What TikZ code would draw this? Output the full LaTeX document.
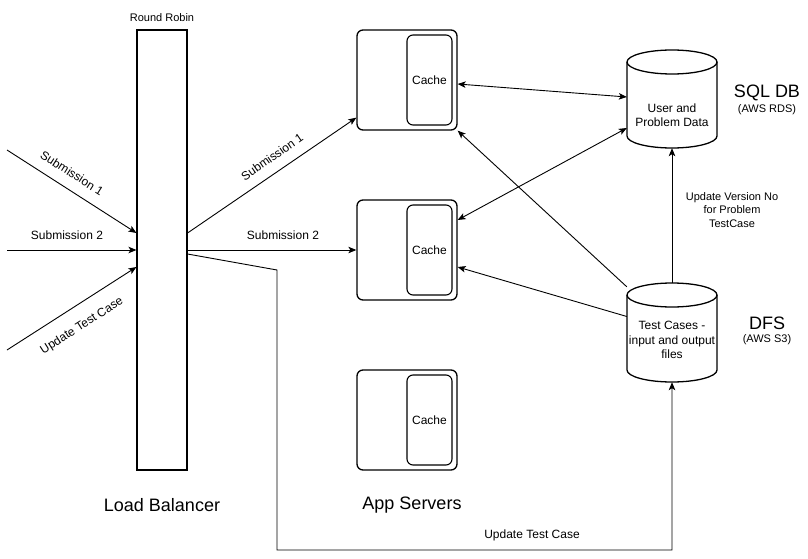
\documentclass[tikz,border=0pt]{standalone}
\usepackage{fontspec}
\setmainfont{Liberation Sans}
\usetikzlibrary{arrows.meta,calc}
\newcommand\txtM{\fontsize{12}{14.5}\selectfont}
\newcommand\txtS{\fontsize{11}{13.5}\selectfont}
\newcommand\txtL{\fontsize{18}{21}\selectfont}
\tikzset{
  lbbox/.style={draw, line width=1.1pt, minimum width=50pt, minimum height=440pt, inner sep=0pt},
  srvbox/.style={draw, line width=1.3pt, rounded corners=6pt, minimum width=100pt, minimum height=100pt, inner sep=0pt},
  cachebox/.style={draw, line width=1.1pt, rounded corners=6pt, minimum width=45pt, minimum height=90pt, inner sep=0pt, font=\txtM},
  dbbox/.style={minimum width=90pt, inner sep=0pt, align=center, font=\txtM},
  cylline/.style={line width=1.3pt},
  conn/.style={line width=0.9pt, -{Stealth[length=8pt,width=6.5pt,inset=2pt]}},
  bconn/.style={line width=0.9pt, {Stealth[length=8pt,width=6.5pt,inset=2pt]}-{Stealth[length=8pt,width=6.5pt,inset=2pt]}},
  plain/.style={line width=0.9pt},
  lbl/.style={font=\txtM, inner sep=0pt, align=center},
  lbls/.style={font=\txtS, inner sep=0pt, align=center},
  lbll/.style={font=\txtL, inner sep=0pt, align=center},
}
\begin{document}
\begin{tikzpicture}[x=1pt,y=-1pt]
\useasboundingbox[fill=white] (0,0) rectangle (808,559);

% load balancer
\node[lbbox] (lb) at (162,250) {};
\node[lbls] (rr) at (162,18) {Round Robin};
\node[lbll] (lbt) at (162,505) {Load Balancer};

% app servers
\node[srvbox] (s1) at (407,80) {};
\node[cachebox] (c1) at (429.5,80) {Cache};
\node[srvbox] (s2) at (407,250) {};
\node[cachebox] (c2) at (429.5,250) {Cache};
\node[srvbox] (s3) at (407,420) {};
\node[cachebox] (c3) at (429.5,420) {Cache};
\node[lbll] (ast) at (412,505) {App Servers};

% SQL DB cylinder (627..717, 50..148)
\draw[cylline] (672,62) ellipse [x radius=45, y radius=12];
\draw[cylline] (627,62) -- (627,136) arc[start angle=180, end angle=0, x radius=45, y radius=12] -- (717,62);
\node[dbbox, minimum height=98pt] (sql) at (672,99) {};
\node[lbl] (sqlt) at (672,115) {User and\\Problem Data};
\node[lbll] (sqln) at (767,93) {SQL DB};
\node[lbls] (sqls) at (767,110) {(AWS RDS)};

% DFS cylinder (627..717, 283..382)
\draw[cylline] (672,295) ellipse [x radius=45, y radius=12];
\draw[cylline] (627,295) -- (627,370) arc[start angle=180, end angle=0, x radius=45, y radius=12] -- (717,295);
\node[dbbox, minimum height=99pt] (dfs) at (672,332.5) {};
\node[lbl] (dfst) at (672,340) {Test Cases -\\input and output\\files};
\node[lbll] (dfsn) at (767,323) {DFS};
\node[lbls] (dfss) at (767,340) {(AWS S3)};

% incoming arrows
\coordinate (i1) at (7,150);
\coordinate (i2) at (7,250);
\coordinate (i3) at (7,350);
\draw[conn] (i1) -- ([yshift=17pt]lb.west);
\draw[conn] (i2) -- (lb.west);
\draw[conn] (i3) -- ([yshift=-17pt]lb.west);
\node[lbl, rotate=-32.6] (l1) at (72,173) {Submission 1};
\node[lbl] (l2) at (67,235) {Submission 2};
\node[lbl, rotate=32.6] (l3) at (82,326) {Update Test Case};

% LB to servers
\draw[conn] ([yshift=17pt]lb.east) -- ([yshift=13pt]s1.south west);
\node[lbl, rotate=34.8] (l4) at (272,157) {Submission 1};
\draw[conn] (lb.east) -- (s2.west);
\node[lbl] (l5) at (283,235) {Submission 2};

% update test case path
\coordinate (k1) at (277,270);
\coordinate (k2) at (277,550);
\draw[conn] ([yshift=-4pt]lb.east) -- (k1) -- (k2) -| (dfs.south);
\node[lbl] (l6) at (532,535) {Update Test Case};

% servers <-> SQL
\draw[bconn] ([yshift=-4pt]s1.east) -- ([yshift=2pt]sql.west);
\draw[bconn] ([yshift=30pt]s2.east) -- ([yshift=-29pt]sql.west);

% DFS -> servers
\draw[conn] ([yshift=-4pt]dfs.north west) -- (s1.south east);
\draw[conn] ([yshift=16pt]dfs.west) -- ([yshift=-17pt]s2.east);

% DFS -> SQL
\draw[conn] (dfs.north) -- (sql.south);
\node[lbls] (l7) at (732,210) {Update Version No\\for Problem\\TestCase};
\end{tikzpicture}
\end{document}
